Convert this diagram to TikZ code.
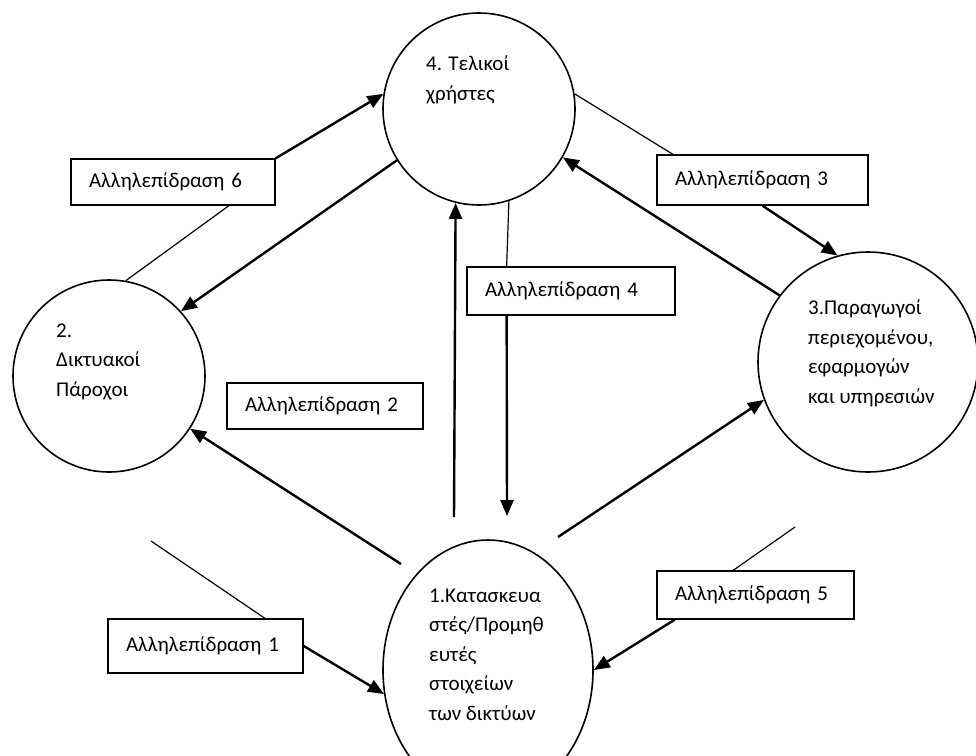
\documentclass[tikz,border=0pt]{standalone}
\usepackage{fontspec}
\setmainfont{Carlito}
\usetikzlibrary{arrows.meta,shapes.geometric}

\begin{document}
\begin{tikzpicture}[x=1pt,y=-1pt,
		every node/.style={font=\fontsize{21}{29.5}\selectfont},
		actor/.style={draw,line width=1.6pt,circle,inner sep=0pt},
		box/.style={draw,line width=1.4pt,rectangle,inner xsep=18pt,inner ysep=0pt,align=left},
		roletext/.style={anchor=base west,inner sep=0pt,align=left},
		link/.style={line width=1.2pt},
		flow/.style={line width=2.4pt,-{Triangle[length=16pt,width=13pt]}}]
		\useasboundingbox (0,0) rectangle (976,755);
		\node[actor,minimum size=192pt] (users) at (479,109) {};
		\node[actor,minimum size=192pt] (isp) at (109,376) {};
		\node[actor,minimum size=220pt] (content) at (868,362) {};
		\node[actor,ellipse,minimum width=210pt,minimum height=260pt] (vendors) at (488,670) {};
		\node[roletext] (usersname) at (426,100) {4. Τελικοί\\χρήστες};
		\node[roletext] (ispname) at (56,396) {2.\\Δικτυακοί\\Πάροχοι};
		\node[roletext] (contentname) at (808,403) {3.Παραγωγοί\\περιεχομένου,\\εφαρμογών\\και υπηρεσιών};
		\node[roletext] (vendorsname) at (429,720) {1.Κατασκευα\\στές/Προμηθ\\ευτές\\στοιχείων\\των δικτύων};
		\node[box,text width=168pt,minimum height=46pt] (int6) at (173,182) {Αλληλεπίδραση 6};
		\node[box,text width=175pt,minimum height=50pt] (int3) at (762.5,180) {Αλληλεπίδραση 3};
		\node[box,text width=172pt,minimum height=48pt] (int4) at (571,291) {Αλληλεπίδραση 4};
		\node[box,text width=160pt,minimum height=46pt] (int2) at (325,406) {Αλληλεπίδραση 2};
		\node[box,text width=159pt,minimum height=54pt] (int1) at (205.5,646) {Αλληλεπίδραση 1};
		\node[box,text width=161pt,minimum height=48pt] (int5) at (755.5,595) {Αλληλεπίδραση 5};
		\coordinate (from2) at (401,564);
		\coordinate (up4) at (454,517);
		\coordinate (down1) at (507,516);
		\coordinate (up3) at (558,537);
		\coordinate (tail1) at (151,541);
		\coordinate (tail5) at (795,527);
		\draw[link] (isp.80) -- (int6.-23);
		\draw[flow] (int6.north east) -- (users.171);
		\draw[flow] (users.212) -- (isp.42);
		\draw[flow] (from2) -- (isp.327);
		\draw[flow] (up4) -- (users.256);
		\draw[link] (users.288) -- (int4.159);
		\draw[flow] (int4.201) -- (down1);
		\draw[link] (users.9) -- (int3.164);
		\draw[flow] (int3.south) -- (content.106);
		\draw[flow] (content.143) -- (users.330);
		\draw[flow] (up3) -- (content.200);
		\draw[link] (tail1) -- (int1.25);
		\draw[flow] (int1.east) -- (vendors.193);
		\draw[link] (tail5) -- (int5.132);
		\draw[flow] (int5.197) -- (vendors.east);
\end{tikzpicture}
\end{document}
